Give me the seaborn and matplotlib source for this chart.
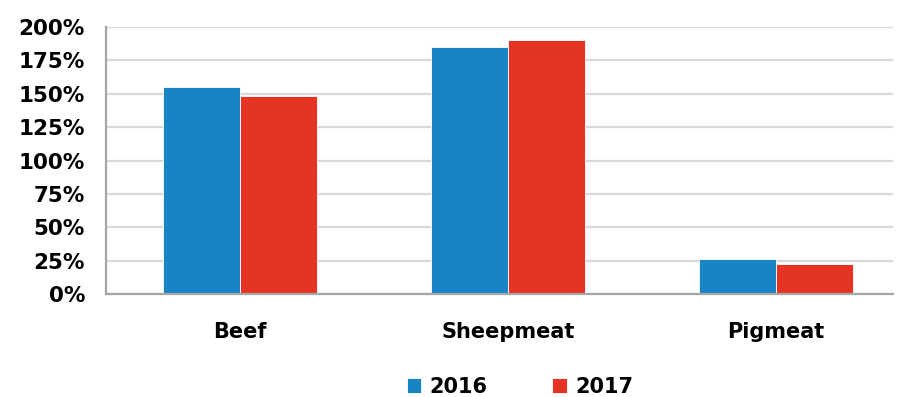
import matplotlib
matplotlib.use("Agg")
import matplotlib.pyplot as plt
import seaborn as sns
import pandas as pd
from matplotlib.ticker import FuncFormatter, FixedLocator

categories = ["Beef", "Sheepmeat", "Pigmeat"]
years = ["2016", "2017"]
values_2016 = [155, 185, 26]
values_2017 = [148, 190, 22.5]
yticks = [0, 25, 50, 75, 100, 125, 150, 175, 200]

df = pd.DataFrame({
    "category": categories * 2,
    "year": [years[0]] * 3 + [years[1]] * 3,
    "value": values_2016 + values_2017,
})

sns.set_style("white")
plt.rcParams["font.family"] = ["DejaVu Sans"]
plt.rcParams["text.color"] = "black"

fig = plt.figure(figsize=(9.04, 3.97), dpi=100)
ax = fig.add_axes([0.117, 0.2594, 0.871, 0.6726])

palette = {"2016": "#1785c5", "2017": "#e53424"}
sns.barplot(data=df, x="category", y="value", hue="year", order=categories,
            hue_order=years, palette=palette, width=0.575, gap=0,
            saturation=1, ax=ax, legend=True, linewidth=0.6, edgecolor="white")

ax.set_ylim(0, 200)
ax.set_xlim(-0.5, 2.437)
ax.set_yticks(yticks)
ax.yaxis.set_major_formatter(FuncFormatter(lambda v, p: f"{int(v)}%"))
ax.grid(axis="y", color="#d9d9d9", linewidth=1.6)
ax.set_axisbelow(True)
for s in ["top", "right"]:
    ax.spines[s].set_visible(False)
for s in ["left", "bottom"]:
    ax.spines[s].set_color("#a6a6a6")
    ax.spines[s].set_linewidth(1.6)
ax.set_xlabel("")
ax.set_ylabel("")
ax.tick_params(axis="y", length=5, width=1.6, color="#a6a6a6", pad=10,
               labelsize=15.5, labelcolor="black")
ax.tick_params(axis="x", which="major", length=0, pad=20, labelsize=15,
               labelcolor="black")
ax.xaxis.set_minor_locator(FixedLocator([-0.5, 0.5, 1.5]))
ax.tick_params(axis="x", which="minor", length=5, width=1.6, color="#a6a6a6")
for lab in ax.get_xticklabels() + ax.get_yticklabels():
    lab.set_fontweight("bold")

handles, labels = ax.get_legend_handles_labels()
ax.get_legend().remove()
fig.legend(handles, labels, loc="center", bbox_to_anchor=(0.575, 0.025),
           ncol=2, frameon=False, handlelength=0.7, handleheight=0.7,
           handletextpad=0.4, columnspacing=3.1,
           prop={"weight": "bold", "size": 15})

fig.savefig("out.png", dpi=100)
